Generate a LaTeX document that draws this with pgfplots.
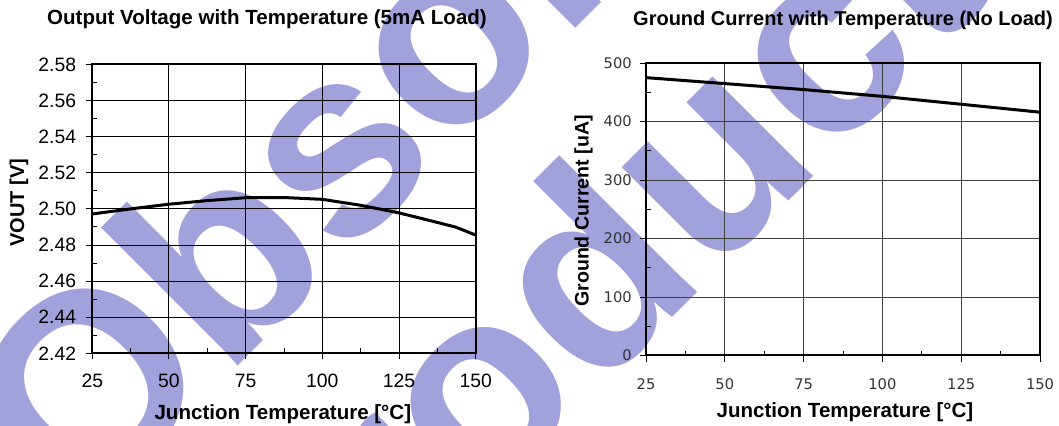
\documentclass[border=0pt]{standalone}
\usepackage{pgfplots}
\pgfplotsset{compat=1.18}
\usepackage{fontspec}
\setmainfont{Liberation Sans}
\newfontfamily\dejavu{DejaVu Sans}
\definecolor{wm}{RGB}{161,161,219}

\pgfplotstableread{
T V
25 2.4972
37.5 2.5000
50 2.5026
62.5 2.5046
75 2.5062
87.5 2.5063
100 2.5053
112.5 2.5020
125 2.4978
137.5 2.4925
143.5 2.4899
150 2.4855
}\voutdata
\pgfplotstableread{
T I
25 475
50 464.8
75 454.6
100 443
125 429.5
150 415.9
}\gnddata

\begin{document}
\begin{tikzpicture}[x=0.75pt,y=0.75pt]
\path[use as bounding box] (0,0) rectangle (1059,425);
\clip (0,0) rectangle (1059,425);
% watermark
\node[rotate=45, anchor=base west, inner sep=0pt, text=wm, font=\fontsize{201pt}{201pt}\selectfont\bfseries] at (78,-101) {Obsolete Product(s)};
\node[rotate=45, anchor=base west, inner sep=0pt, text=wm, font=\fontsize{201pt}{201pt}\selectfont\bfseries] at (278.5,-286.5) {Product(s)};

% left chart
\begin{axis}[
  at={(69.225pt,53.775pt)}, anchor=south west,
  scale only axis, width=287.55pt, height=216.6pt,
  xmin=25, xmax=150, ymin=2.42, ymax=2.58,
  xtick={25,50,75,100,125,150},
  ytick={2.42,2.44,2.46,2.48,2.50,2.52,2.54,2.56,2.58},
  minor xtick={37.5,62.5,87.5,112.5,137.5},
  minor ytick={2.43,2.45,2.47,2.49,2.51,2.53,2.55,2.57},
  xtick pos=bottom, ytick pos=left,
  tick align=outside,
  major tick length=4.5pt, minor tick length=-3.75pt,
  tick style={black, line width=0.75pt},
  grid=major, major grid style={black, line width=0.75pt},
  axis line style={black, line width=1.5pt},
  /pgf/number format/assume math mode=true,
  ticklabel style={font=\fontsize{14.5pt}{16pt}\selectfont},
  yticklabel style={/pgf/number format/fixed, /pgf/number format/precision=2, /pgf/number format/fixed zerofill, anchor=east, inner sep=0pt, xshift=-7.5pt},
  xticklabel style={anchor=base, inner sep=0pt, yshift=-21.5pt},
  every axis title shift=0pt,
  title={Output Voltage with Temperature (5mA Load)},
  title style={at={(axis description cs:0.4557,1.1565)}, anchor=center, font=\bfseries\fontsize{15.4pt}{18pt}\selectfont},
  xlabel={Junction Temperature [°C]},
  xlabel style={at={(axis description cs:0.497,-0.21)}, anchor=center, font=\bfseries\fontsize{15.4pt}{18pt}\selectfont},
  ylabel={VOUT [V]},
  ylabel style={at={(axis description cs:-0.191,0.522)}, anchor=center, font=\bfseries\fontsize{15pt}{18pt}\selectfont},
]
\addplot[black, line width=2.25pt, line join=round] table[x=T, y=V] {\voutdata};
\end{axis}

% right chart
\begin{axis}[
  at={(484.5pt,52.125pt)}, anchor=south west,
  scale only axis, width=295.5pt, height=219.375pt,
  xmin=25, xmax=150, ymin=0, ymax=500,
  xtick={25,50,75,100,125,150},
  ytick={0,100,200,300,400,500},
  minor xtick={37.5,62.5,87.5,112.5,137.5},
  minor ytick={50,150,250,350,450},
  xtick pos=bottom, ytick pos=left,
  tick align=outside,
  major tick length=4.5pt, minor tick length=-3.75pt,
  tick style={black, line width=0.75pt},
  grid=major, major grid style={black!75, line width=0.75pt},
  axis line style={black, line width=1.1pt},
  /pgf/number format/assume math mode=true,
  ticklabel style={font=\dejavu\fontsize{11pt}{13pt}\selectfont, text=black!80},
  yticklabel style={anchor=east, inner sep=0pt, xshift=-6pt},
  xticklabel style={anchor=base, inner sep=0pt, yshift=-21pt},
  every axis title shift=0pt,
  title={Ground Current with Temperature (No Load)},
  title style={at={(axis description cs:0.5,1.1453)}, anchor=center, font=\bfseries\fontsize{15pt}{18pt}\selectfont},
  xlabel={Junction Temperature [°C]},
  xlabel style={at={(axis description cs:0.505,-0.195)}, anchor=center, font=\bfseries\fontsize{15.4pt}{18pt}\selectfont},
  ylabel={Ground Current [uA]},
  ylabel style={at={(axis description cs:-0.1586,0.494)}, anchor=center, font=\bfseries\fontsize{14.7pt}{18pt}\selectfont},
]
\addplot[black, line width=2.25pt, line join=round] table[x=T, y=I] {\gnddata};
\draw[black, line width=2.2pt] (rel axis cs:0,1) -- (rel axis cs:0,0) -- (rel axis cs:1,0);
\end{axis}
\end{tikzpicture}
\end{document}
